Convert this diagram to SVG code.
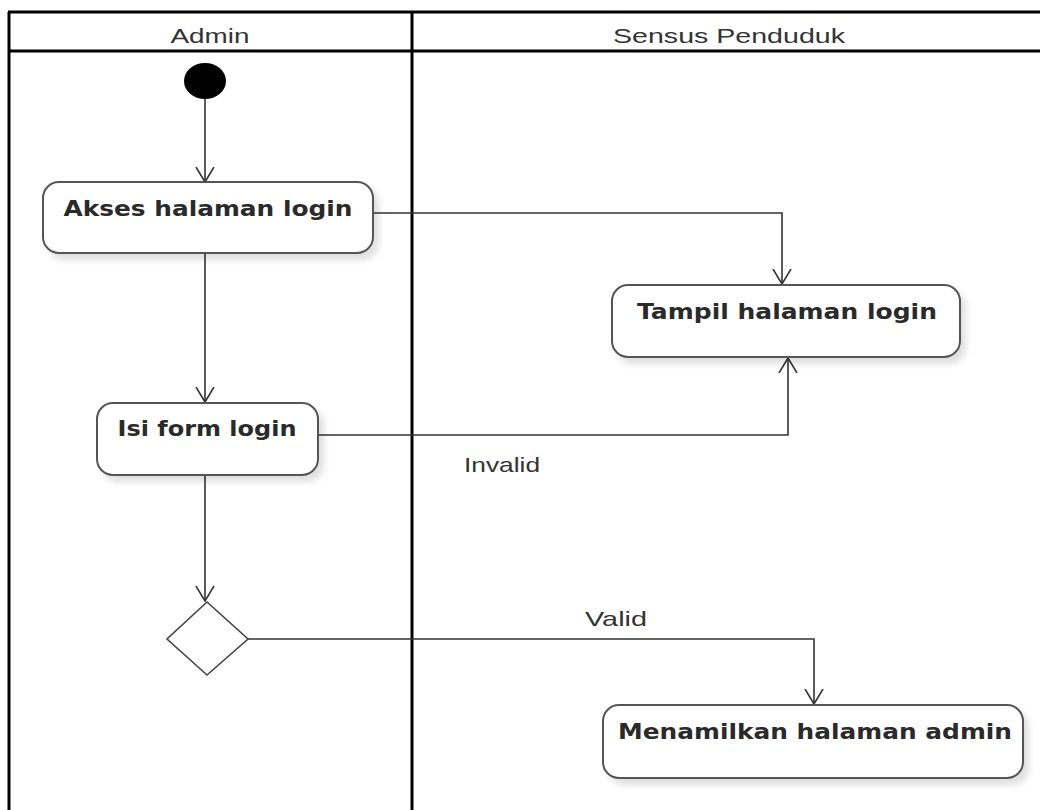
<svg xmlns="http://www.w3.org/2000/svg" width="1040" height="810" viewBox="0 0 1040 810">
<style>
.lane{stroke:#000;stroke-width:3;fill:none}
.hdr{font-family:"Liberation Sans",Arial,sans-serif;font-size:21px;fill:#333}
.box{fill:#fff;stroke:#555;stroke-width:2;filter:url(#sh)}
.lbl{font-family:"DejaVu Sans","Liberation Sans",sans-serif;font-weight:bold;font-size:22px;fill:#2a2a2a}
.edge{fill:none;stroke:#333;stroke-width:1.6;marker-end:url(#arr)}
.elbl{font-family:"Liberation Sans",Arial,sans-serif;font-size:21px;fill:#333}
</style>
<defs>
<filter id="sh" x="-10%" y="-10%" width="130%" height="140%">
<feDropShadow dx="5" dy="6" stdDeviation="3" flood-color="#000" flood-opacity="0.12"/>
</filter>
<marker id="arr" viewBox="0 0 16 20" refX="15" refY="10" markerWidth="16" markerHeight="20" markerUnits="userSpaceOnUse" orient="auto">
<path d="M0,1 L15,10 L0,19" fill="none" stroke="#333" stroke-width="1.6"/>
</marker>
</defs>
<rect width="1040" height="810" fill="#fff"/>
<g id="swimlanes">
<line class="lane" x1="8" y1="12" x2="1040" y2="12"/>
<line class="lane" x1="8" y1="51" x2="1040" y2="51"/>
<line class="lane" x1="9" y1="12" x2="9" y2="810"/>
<line class="lane" x1="412" y1="12" x2="412" y2="810"/>
<text class="hdr" x="210" y="43" text-anchor="middle" textLength="79" lengthAdjust="spacingAndGlyphs">Admin</text>
<text class="hdr" x="729" y="43" text-anchor="middle" textLength="232" lengthAdjust="spacingAndGlyphs">Sensus Penduduk</text>
</g>
<g id="connectors">
<path class="edge" d="M205,99 L205,182"/>
<path class="edge" d="M373,213 L782,213 L782,284"/>
<path class="edge" d="M205,253 L205,402"/>
<path class="edge" d="M318,435 L788,435 L788,358"/>
<text class="elbl" x="464" y="472" textLength="76" lengthAdjust="spacingAndGlyphs">Invalid</text>
<path class="edge" d="M205,475 L205,601"/>
<path class="edge" d="M248,639 L814,639 L814,704"/>
<text class="elbl" x="585" y="626" textLength="62" lengthAdjust="spacingAndGlyphs">Valid</text>
</g>
<g id="start">
<ellipse cx="205" cy="81" rx="21" ry="18" fill="#000"/>
</g>
<g id="akses">
<rect class="box" x="43" y="182" width="330" height="71" rx="16"/>
<text class="lbl" x="208" y="216" text-anchor="middle" textLength="289" lengthAdjust="spacingAndGlyphs">Akses halaman login</text>
</g>
<g id="tampil">
<rect class="box" x="612" y="285" width="348" height="72" rx="16"/>
<text class="lbl" x="787" y="319" text-anchor="middle" textLength="300" lengthAdjust="spacingAndGlyphs">Tampil halaman login</text>
</g>
<g id="isi">
<rect class="box" x="97" y="403" width="221" height="72" rx="16"/>
<text class="lbl" x="207" y="436" text-anchor="middle" textLength="179" lengthAdjust="spacingAndGlyphs">Isi form login</text>
</g>
<g id="decision">
<polygon points="207,602 248,639 207,675 167,639" fill="#fff" stroke="#444" stroke-width="1.6"/>
</g>
<g id="menamilkan">
<rect class="box" x="603" y="705" width="420" height="73" rx="16"/>
<text class="lbl" x="815" y="739" text-anchor="middle" textLength="394" lengthAdjust="spacingAndGlyphs">Menamilkan halaman admin</text>
</g>
</svg>
